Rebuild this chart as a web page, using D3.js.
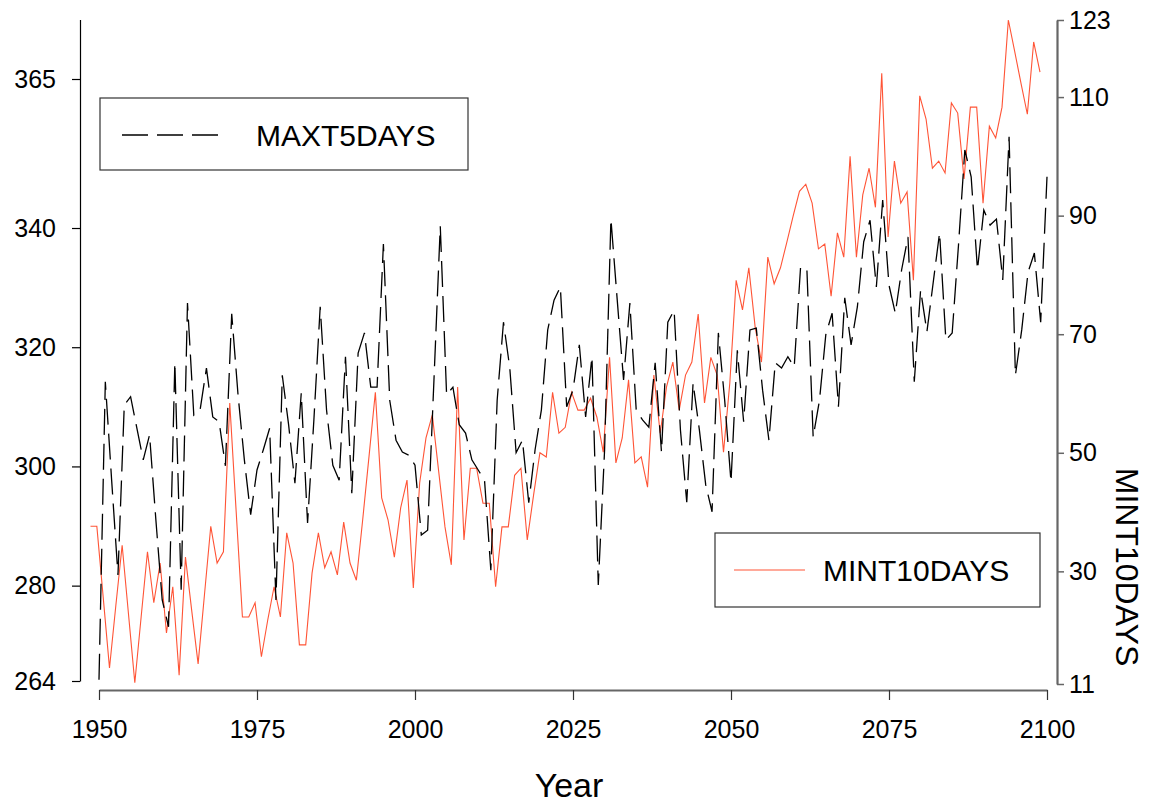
<!DOCTYPE html>
<html>
<head>
<meta charset="utf-8">
<script src="https://cdn.jsdelivr.net/npm/d3@7"></script>
<style>
  html, body { margin: 0; padding: 0; background: #fff; }
  text { font-family: "Liberation Sans", Arial, sans-serif; }
</style>
</head>
<body>
<svg id="chart" width="1150" height="806"></svg>
<script>
// ---- data ----
const years = d3.range(1950, 2101);
const maxt5days = [
264.2,314.2,297.7,281.8,310.3,311.7,306.4,301.1,305.3,291.0,
277.6,273.1,317.4,279.3,327.4,308.6,309.5,316.5,308.3,307.5,
300.1,325.6,312.0,301.1,291.9,299.4,302.8,306.4,277.6,315.3,
307.0,297.2,312.3,290.5,307.8,326.8,309.5,300.2,297.7,318.4,
295.5,319.0,322.4,313.3,313.3,337.3,311.1,304.4,302.4,301.9,
300.2,288.5,289.3,314.5,340.3,312.0,313.3,307.0,305.6,301.1,
299.4,297.7,282.6,311.1,324.2,316.5,302.3,304.4,293.9,302.8,
309.5,322.9,327.9,330.1,310.0,312.8,320.4,308.3,318.4,280.1,
302.8,341.5,327.9,314.5,327.4,309.5,307.8,306.6,317.4,302.4,
324.2,326.2,306.1,294.0,314.0,306.1,296.9,292.4,322.4,311.1,
297.4,319.5,307.5,322.9,323.2,312.8,304.4,317.4,316.5,318.4,
316.7,333.3,333.3,304.9,311.1,322.1,325.7,310.0,328.3,320.4,
326.8,337.7,341.3,330.1,344.7,330.4,325.7,333.0,338.5,314.2,
329.6,322.6,330.9,339.2,321.2,322.4,337.2,353.1,348.6,333.0,
343.0,340.5,341.5,331.3,355.3,315.3,322.9,332.6,335.8,324.2,
348.6];
const mint10days = [
37.6,37.6,25.7,13.7,24.2,34.4,22.8,11.2,22.3,33.3,
24.7,31.4,19.6,27.4,12.5,32.4,23.3,14.4,26.0,37.6,
31.4,33.3,58.4,40.3,22.3,22.3,24.7,15.6,21.8,27.4,
22.3,36.5,31.4,17.6,17.6,29.7,36.5,30.6,33.3,29.4,
38.3,31.4,28.5,38.7,49.4,60.2,42.4,38.7,32.4,40.7,
45.4,27.2,44.9,52.5,56.4,46.9,37.5,31.1,61.1,35.3,
47.4,47.4,41.5,41.5,27.4,37.5,37.5,46.2,47.4,35.3,
42.9,50.0,49.3,60.2,53.3,54.3,60.2,57.2,57.2,59.2,
56.0,50.1,66.1,48.3,52.5,62.3,48.3,49.3,44.2,63.1,
53.3,61.1,65.3,57.2,63.1,65.3,73.4,58.4,66.1,63.1,
50.1,61.8,79.1,74.1,81.2,71.2,65.3,83.0,78.5,81.2,
85.5,89.9,94.1,95.3,92.1,84.4,85.2,76.4,87.1,83.0,
100.0,83.0,93.5,98.0,91.4,114.0,86.4,99.2,92.1,94.0,
79.1,110.2,106.3,98.0,99.2,97.2,109.0,107.3,96.2,108.3,
108.3,92.1,105.1,103.1,108.3,123.0,117.7,112.3,107.1,119.3,
114.2];
const xTicks = [1950, 1975, 2000, 2025, 2050, 2075, 2100];
const leftTicks = [264, 280, 300, 320, 340, 365];
const rightTicks = [11, 30, 50, 70, 90, 110, 123];
const seriesNames = ["MAXT5DAYS", "MINT10DAYS"];
const xTitle = "Year";
const rightTitle = "MINT10DAYS";

// ---- drawing ----
const svg = d3.select("#chart");
svg.append("rect").attr("width", 1150).attr("height", 806).attr("fill", "#fff");

const x = d3.scaleLinear().domain([1950, 2100]).range([99, 1047]);
const xRed = d3.scaleLinear().domain([1950, 2100]).range([90.5, 1040]);
const yL = d3.scaleLinear().domain([264, 375]).range([681, 19.4]);
const yR = d3.scaleLinear().domain([11, 123]).range([684, 20]);

const RED = "#ff5436";
const FONT = "Liberation Sans, Arial, sans-serif";

// left axis
const gL = svg.append("g").attr("transform", "translate(80,0)")
  .call(d3.axisLeft(yL).tickValues(leftTicks).tickSize(8).tickSizeOuter(0).tickPadding(16));
gL.select(".domain").attr("stroke", "#000").attr("stroke-width", 1.2);
gL.selectAll(".tick line").attr("stroke", "#000").attr("stroke-width", 1.2);
gL.selectAll(".tick text").attr("font-size", 25).attr("fill", "#000").attr("font-family", FONT);

// right axis
const gR = svg.append("g").attr("transform", "translate(1057,0)")
  .call(d3.axisRight(yR).tickValues(rightTicks).tickSize(7).tickSizeOuter(0).tickPadding(5));
gR.select(".domain").attr("stroke", "#666").attr("stroke-width", 2.2);
gR.selectAll(".tick line").attr("stroke", "#666").attr("stroke-width", 1.5);
gR.selectAll(".tick text").attr("font-size", 25).attr("fill", "#000").attr("font-family", FONT);

// bottom axis
const gB = svg.append("g").attr("transform", "translate(0,690)")
  .call(d3.axisBottom(x).tickValues(xTicks).tickFormat(d3.format("d")).tickSize(10).tickSizeOuter(0).tickPadding(20));
gB.select(".domain").attr("stroke", "#666").attr("stroke-width", 2.2);
gB.selectAll(".tick line").attr("stroke", "#333").attr("stroke-width", 1.2);
gB.selectAll(".tick text").attr("font-size", 25).attr("fill", "#000").attr("font-family", FONT);

// titles
svg.append("text").attr("x", 569).attr("y", 797).attr("text-anchor", "middle")
  .attr("font-size", 34).attr("fill", "#000").text(xTitle);
svg.append("text").attr("transform", "translate(1116,567) rotate(90)")
  .attr("text-anchor", "middle").attr("font-size", 32).attr("fill", "#000").text(rightTitle);

// lines
const lineBlack = d3.line().x((d, i) => x(years[i])).y(d => yL(d));
const lineRed = d3.line().x((d, i) => xRed(years[i])).y(d => yR(d));

svg.append("path").datum(mint10days).attr("d", lineRed)
  .attr("fill", "none").attr("stroke", RED).attr("stroke-width", 1.1);
svg.append("path").datum(maxt5days).attr("d", lineBlack)
  .attr("fill", "none").attr("stroke", "#000").attr("stroke-width", 1.3)
  .attr("stroke-dasharray", "26,9");

// legends
const lg1 = svg.append("g");
lg1.append("rect").attr("x", 100).attr("y", 98).attr("width", 368).attr("height", 72)
  .attr("fill", "#fff").attr("stroke", "#333").attr("stroke-width", 1.2);
lg1.append("line").attr("x1", 122).attr("x2", 218).attr("y1", 135).attr("y2", 135)
  .attr("stroke", "#000").attr("stroke-width", 1.3).attr("stroke-dasharray", "26,9");
lg1.append("text").attr("x", 256).attr("y", 146).attr("font-size", 30).attr("fill", "#000").text(seriesNames[0]);

const lg2 = svg.append("g");
lg2.append("rect").attr("x", 715).attr("y", 533).attr("width", 325).attr("height", 74)
  .attr("fill", "#fff").attr("stroke", "#333").attr("stroke-width", 1.2);
lg2.append("line").attr("x1", 734).attr("x2", 805).attr("y1", 570).attr("y2", 570)
  .attr("stroke", RED).attr("stroke-width", 1.1);
lg2.append("text").attr("x", 823).attr("y", 581).attr("font-size", 30).attr("fill", "#000").text(seriesNames[1]);
</script>
</body>
</html>
